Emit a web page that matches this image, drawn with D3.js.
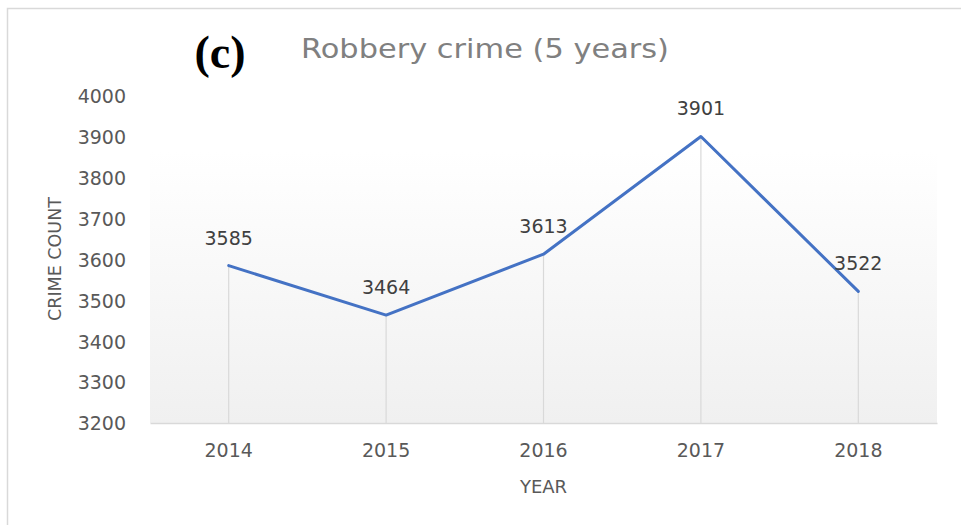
<!DOCTYPE html>
<html><head><meta charset="utf-8">
<script src="https://cdn.jsdelivr.net/npm/d3@7"></script>
<style>body{margin:0;background:#fff;} svg{display:block;}</style>
</head><body>
<svg id="chart" width="961" height="525"></svg>
<script>
const years = ["2014","2015","2016","2017","2018"];
const counts = [3585, 3464, 3613, 3901, 3522];
const yTicks = [3200,3300,3400,3500,3600,3700,3800,3900,4000];
const title = "Robbery crime (5 years)";
const panel = "(c)";
const xTitle = "YEAR";
const yTitle = "CRIME COUNT";

(function(){
const svg = d3.select("#chart");
const W = 961, H = 525;
const pL = 150, pR = 937, pT = 96, pB = 423;
const FONT = "DejaVu Sans, sans-serif";

// chart border
svg.append("rect").attr("x",7.5).attr("y",8.5).attr("width",W).attr("height",H)
  .attr("fill","none").attr("stroke","#d9d9d9").attr("stroke-width",1.5);

const defs = svg.append("defs");
const g = defs.append("linearGradient").attr("id","bg").attr("x1",0).attr("y1",0).attr("x2",0).attr("y2",1);
g.append("stop").attr("offset","0%").attr("stop-color","#ffffff");
g.append("stop").attr("offset","100%").attr("stop-color","#f0f0f0");

const x = d3.scaleBand().domain(years).range([pL,pR]);
const y = d3.scaleLinear().domain([3200,4000]).range([pB,pT]);

svg.append("rect").attr("x",pL).attr("y",y(3863)).attr("width",pR-pL).attr("height",pB-y(3863))
  .attr("fill","url(#bg)");

const cx = d => x(d)+x.bandwidth()/2;

// drop lines
svg.selectAll(".drop").data(years).enter().append("line")
  .attr("x1",d=>cx(d)).attr("x2",d=>cx(d))
  .attr("y1",(d,i)=>y(counts[i])).attr("y2",pB)
  .attr("stroke","#d9d9d9").attr("stroke-width",1.2);

// x axis
const xAxis = svg.append("g").attr("transform",`translate(0,${pB})`)
  .call(d3.axisBottom(x).tickSize(0));
xAxis.select(".domain").attr("stroke","#d9d9d9").attr("stroke-width",1.5);
xAxis.selectAll("text").attr("font-family",FONT).attr("font-size",19).attr("fill","#595959")
  .attr("y",34).attr("dy",0);

// y axis
const yAxis = svg.append("g").attr("transform",`translate(${pL},0)`)
  .call(d3.axisLeft(y).tickValues(yTicks).tickSize(0).tickPadding(24).tickFormat(d3.format("d")));
yAxis.select(".domain").remove();
yAxis.selectAll("text").attr("font-family",FONT).attr("font-size",19).attr("fill","#595959")
  .attr("dy","0.36em");

// line
const line = d3.line().x((d,i)=>cx(years[i])).y(d=>y(d));
svg.append("path").datum(counts).attr("d",line).attr("fill","none")
  .attr("stroke","#4472c4").attr("stroke-width",3).attr("stroke-linejoin","round").attr("stroke-linecap","round");

// data labels
svg.selectAll(".lbl").data(counts).enter().append("text")
  .attr("x",(d,i)=>cx(years[i])).attr("y",d=>y(d)-21)
  .attr("text-anchor","middle").attr("font-family",FONT).attr("font-size",19).attr("fill","#404040")
  .text(d=>d);

// titles
svg.append("text").attr("x",485).attr("y",58).attr("text-anchor","middle")
  .attr("font-family",FONT).attr("font-size",27).attr("fill","#808080")
  .attr("textLength",368).attr("lengthAdjust","spacingAndGlyphs").text(title);
svg.append("text").attr("x",220).attr("y",68).attr("text-anchor","middle")
  .attr("font-family","Liberation Serif, serif").attr("font-weight","bold").attr("font-size",46).attr("fill","#000").text(panel);
svg.append("text").attr("x",cx("2016")).attr("y",493).attr("text-anchor","middle")
  .attr("font-family",FONT).attr("font-size",18).attr("fill","#595959").text(xTitle);
svg.append("text").attr("transform","translate(61,259) rotate(-90)").attr("text-anchor","middle")
  .attr("font-family",FONT).attr("font-size",17.5).attr("fill","#595959").text(yTitle);
})();
</script>
</body></html>
